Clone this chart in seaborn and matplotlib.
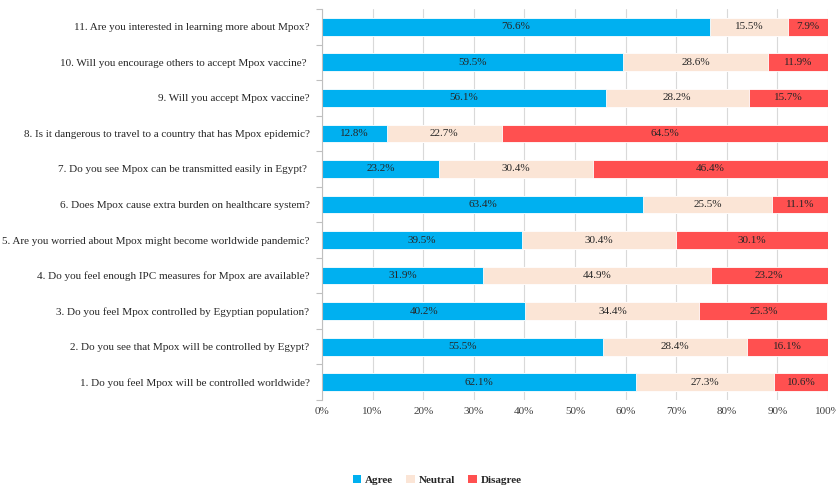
import matplotlib
matplotlib.use("Agg")
import matplotlib.pyplot as plt
import seaborn as sns
import pandas as pd
import numpy as np
from matplotlib.patches import Patch
from matplotlib.ticker import FixedLocator

questions = [
    "11. Are you interested in learning more about Mpox?",
    "10. Will you encourage others to accept Mpox vaccine? ",
    "9. Will you accept Mpox vaccine?",
    "8. Is it dangerous to travel to a country that has Mpox epidemic?",
    "7. Do you see Mpox can be transmitted easily in Egypt? ",
    "6. Does Mpox cause extra burden on healthcare system?",
    "5. Are you worried about Mpox might become worldwide pandemic?",
    "4. Do you feel enough IPC measures for Mpox are available?",
    "3. Do you feel Mpox controlled by Egyptian population?",
    "2. Do you see that Mpox will be controlled by Egypt?",
    "1. Do you feel Mpox will be controlled worldwide?",
]
agree = [76.6, 59.5, 56.1, 12.8, 23.2, 63.4, 39.5, 31.9, 40.2, 55.5, 62.1]
neutral = [15.5, 28.6, 28.2, 22.7, 30.4, 25.5, 30.4, 44.9, 34.4, 28.4, 27.3]
disagree = [7.9, 11.9, 15.7, 64.5, 46.4, 11.1, 30.1, 23.2, 25.3, 16.1, 10.6]
series_names = ["Agree", "Neutral", "Disagree"]
colors = ["#00B0F0", "#FBE5D6", "#FF5050"]
xticks = [0, 10, 20, 30, 40, 50, 60, 70, 80, 90, 100]

sns.set_theme(style="white")
plt.rcParams["font.family"] = ["Liberation Serif", "DejaVu Serif"]

df = pd.DataFrame({"q": questions, "Agree": agree, "Neutral": neutral, "Disagree": disagree})
df["c1"] = df["Agree"]
df["c2"] = df["Agree"] + df["Neutral"]
df["c3"] = df["Agree"] + df["Neutral"] + df["Disagree"]

fig = plt.figure(figsize=(8.37, 4.86), dpi=100)
ax = fig.add_axes([322/837, 1-400/486, (828-322)/837, (400-9)/486])

ax.set_axisbelow(True)
for col, color in zip(["c3", "c2", "c1"], colors[::-1]):
    sns.barplot(data=df, y="q", x=col, order=questions, color=color, width=0.5,
                edgecolor="white", linewidth=0.6, saturation=1, ax=ax, zorder=2)

# labels centered in segments
vals = [agree, neutral, disagree]
lefts = [np.zeros(len(questions)), np.array(agree), np.array(agree) + np.array(neutral)]
for v, l in zip(vals, lefts):
    for i, (vv, ll) in enumerate(zip(v, l)):
        ax.text(ll + vv / 2, i, f"{vv:.1f}%", ha="center", va="center", fontsize=8, color="#262626", zorder=3)

ax.set_xlim(0, 100)
ax.set_ylim(len(questions) - 0.5, -0.5)
ax.set_xticks(xticks)
ax.set_xticklabels([f"{t}%" for t in xticks], fontsize=8)
ax.set_xlabel("")
ax.set_ylabel("")
ax.tick_params(axis="x", length=0, pad=5, colors="#404040")
ax.tick_params(axis="y", which="major", length=0, labelsize=8, pad=9, labelcolor="#262626")
ax.yaxis.set_minor_locator(FixedLocator(np.arange(-0.5, len(questions), 1.0)))
ax.tick_params(axis="y", which="minor", length=4, width=0.8, color="#BFBFBF", direction="out", left=True)
ax.grid(axis="x", color="#D9D9D9", linewidth=0.8)
ax.grid(axis="y", visible=False)
for s in ["top", "right", "bottom"]:
    ax.spines[s].set_visible(False)
ax.spines["left"].set_color("#BFBFBF")
ax.spines["left"].set_linewidth(0.8)

handles = [Patch(facecolor=c, edgecolor="none") for c in colors]
fig.legend(handles, series_names, loc="center", bbox_to_anchor=(437/837, 1-480/486), ncol=3,
           frameon=False, prop={"weight": "bold", "size": 8}, handlelength=0.8, handleheight=0.8,
           handletextpad=0.3, columnspacing=1.2)

fig.savefig("out.png", dpi=100)
